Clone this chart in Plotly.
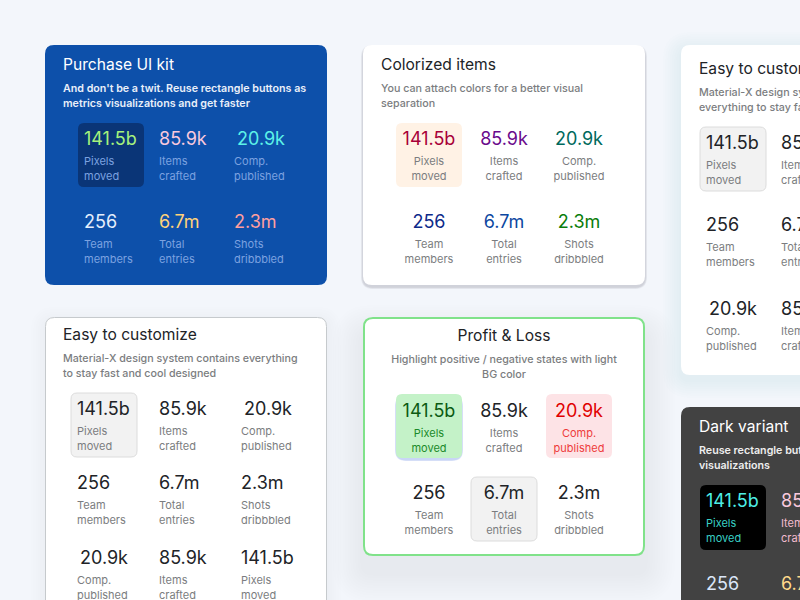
import plotly.graph_objects as go

# ---- chart values ----
metric_values = ["141.5b", "85.9k", "20.9k", "256", "6.7m", "2.3m"]
metric_labels = [["Pixels", "moved"], ["Items", "crafted"], ["Comp.", "published"],
                 ["Team", "members"], ["Total", "entries"], ["Shots", "dribbbled"]]
extra_values = ["20.9k", "85.9k", "141.5b"]
extra_labels = [["Comp.", "published"], ["Items", "crafted"], ["Pixels", "moved"]]

titles = ["Purchase UI kit", "Colorized items", "Easy to customize", "Profit & Loss",
          "Easy to customize", "Dark variant"]
subtitles = [["And don't be a twit. Reuse rectangle buttons as", "metrics visualizations and get faster"],
             ["You can attach colors for a better visual", "separation"],
             ["Material-X design system contains everything", "to stay fast and cool designed"],
             ["Highlight positive / negative states with light", "BG color"],
             ["Material-X design system contains", "everything to stay fast and cool designed"],
             ["Reuse rectangle buttons as metrics", "visualizations"]]

FONT = "Inter"
INK = "#212327"
GREY = "#7b7d80"

shapes = []
texts = {}


def rrect(x0, y0, x1, y1, r, fill, line=None, lw=0, opacity=1):
    p = (f"M{x0+r},{y0} L{x1-r},{y0} Q{x1},{y0} {x1},{y0+r} L{x1},{y1-r} Q{x1},{y1} {x1-r},{y1} "
         f"L{x0+r},{y1} Q{x0},{y1} {x0},{y1-r} L{x0},{y0+r} Q{x0},{y0} {x0+r},{y0} Z")
    shapes.append(dict(type="path", path=p, xref="x", yref="y", fillcolor=fill, opacity=opacity,
                       line=dict(color=line or fill, width=lw), layer="below"))


def shadow(x0, y0, x1, y1, dy, spread, steps, alpha, rgb="120,140,160"):
    for i in range(steps):
        g = spread * (1 - i / steps)
        rrect(x0 - g, y0 - g + dy, x1 + g, y1 + g + dy, 10 + g, f"rgba({rgb},{alpha})")


def put(x, y, s, size, color, weight=400, center=False):
    key = (size, weight, center)
    t = texts.setdefault(key, dict(x=[], y=[], text=[], color=[]))
    t["x"].append(x); t["y"].append(y); t["text"].append(s); t["color"].append(color)


def card(idx, tx, ty, cols, rows, vals, labs, vcolors, lcolor, tcolor, scolor,
         center_cells=False, center_head=False, sub_weight=500):
    put(tx, ty + 2, titles[idx], 15.6, tcolor, 400, center_head)
    put(tx, ty + 25, subtitles[idx][0], 10.7, scolor, sub_weight, center_head)
    put(tx, ty + 40, subtitles[idx][1], 10.7, scolor, sub_weight, center_head)
    n = 0
    for ry in rows:
        for cx in cols:
            v = vals[n]
            lab = labs[n]
            lc = lcolor[n] if isinstance(lcolor, list) else lcolor
            vx = cx + (3 if (v == "20.9k" and not center_cells) else 0)
            put(vx, ry + 1.5, v, 18, vcolors[n], 400, center_cells)
            put(cx, ry + 23, lab[0], 11, lc, 400, center_cells)
            put(cx, ry + 38, lab[1], 11, lc, 400, center_cells)
            n += 1


vals9 = metric_values + extra_values
labs9 = metric_labels + extra_labels

# Shadows
shadow(363, 45, 645, 285, 2, 2, 3, 0.08, "90,90,100")
shadow(363, 317, 645, 555, 18, 30, 12, 0.008, "110,140,140")
shadow(681, 45, 860, 375, 5, 18, 8, 0.012)
shadow(45, 317, 327, 640, 4, 14, 6, 0.008)

# Cards
rrect(45, 45, 327, 285, 9, "#0d50aa")
rrect(363, 45, 645, 285, 9, "#ffffff")
rrect(45.5, 317.5, 326.5, 640, 9, "#ffffff", "#c6cacd", 1)
rrect(364, 318, 644, 555, 9, "#ffffff", "#80e28a", 2)
rrect(681, 45, 860, 375, 9, "#ffffff")
rrect(681, 407, 860, 660, 9, "#424242")

# Highlights
rrect(78, 123, 144, 187, 6, "#0a3577")
rrect(396, 123, 462, 187, 6, "#fff2e5")
rrect(71, 393, 137, 457, 6, "#f2f2f2", "#dcdcdc", 1)
shadow(396, 394, 462, 458, 2, 1, 2, 0.22, "120,150,230")
rrect(396, 394, 462, 458, 6, "#c4f2c8")
rrect(546, 394, 612, 458, 6, "#fde3e6")
rrect(471, 477, 537, 541, 6, "#f2f2f2", "#dcdcdc", 1)
rrect(700, 127, 766, 191, 6, "#f2f2f2", "#dcdcdc", 1)
rrect(700, 485, 766, 550, 6, "#000000")

card(0, 63, 64, [84, 159, 234], [139, 222], metric_values, metric_labels,
     ["#a6f27c", "#f9c9dd", "#5cf2e8", "#e4eefc", "#ffd27a", "#ff9f9f"], "#7ca2e0", "#ffffff", "#e9eff9",
     sub_weight=600)
card(1, 381, 64, [429, 504, 579], [139, 222], metric_values, metric_labels,
     ["#a80039", "#6a0a8c", "#00695c", "#0d2a8a", "#0d47a1", "#0a7d0a"], GREY, INK, GREY, center_cells=True)
card(2, 63, 334, [77, 159, 241], [409, 483, 558], vals9, labs9,
     [INK] * 9, GREY, INK, GREY)
card(3, 504, 335, [429, 504, 579], [411, 493], metric_values, metric_labels,
     ["#0b5a12", INK, "#e00000", INK, INK, INK],
     ["#1b8a2a", GREY, "#ee3b3b", GREY, GREY, GREY], INK, GREY, center_cells=True, center_head=True)
card(4, 699, 68, [706, 781], [143, 225, 309],
     [metric_values[0], metric_values[1], metric_values[3], metric_values[4], extra_values[0], extra_values[1]],
     [metric_labels[0], metric_labels[1], metric_labels[3], metric_labels[4], extra_labels[0], extra_labels[1]],
     [INK] * 6, GREY, INK, GREY)
card(5, 699, 426, [706, 781], [501, 584],
     [metric_values[0], metric_values[1], metric_values[3], metric_values[4]],
     [metric_labels[0], metric_labels[1], metric_labels[3], metric_labels[4]],
     ["#4deee6", "#f9c9dd", "#dbe6f8", "#ffd98a"], ["#38cfc4", "#f2bccf", "#a9a9a9", "#a9a9a9"], "#ffffff", "#eeeeee",
     sub_weight=600)

fig = go.Figure()
for (size, weight, center), t in texts.items():
    fig.add_trace(go.Scatter(
        x=t["x"], y=t["y"], text=t["text"],
        mode="text", textposition="middle center" if center else "middle right",
        textfont=dict(family=FONT, size=size, weight=weight, color=t["color"]),
        hoverinfo="skip", showlegend=False, cliponaxis=False))

fig.update_layout(
    width=800, height=600, margin=dict(l=0, r=0, t=0, b=0),
    paper_bgcolor="#f3f6fb", plot_bgcolor="#f3f6fb", shapes=shapes, showlegend=False,
    xaxis=dict(range=[0, 800], visible=False, fixedrange=True),
    yaxis=dict(range=[600, 0], visible=False, fixedrange=True),
)
fig.write_html("out.html", config=dict(displayModeBar=False, staticPlot=True),
               post_script="document.body.style.margin='0';document.body.style.overflow='hidden';")
